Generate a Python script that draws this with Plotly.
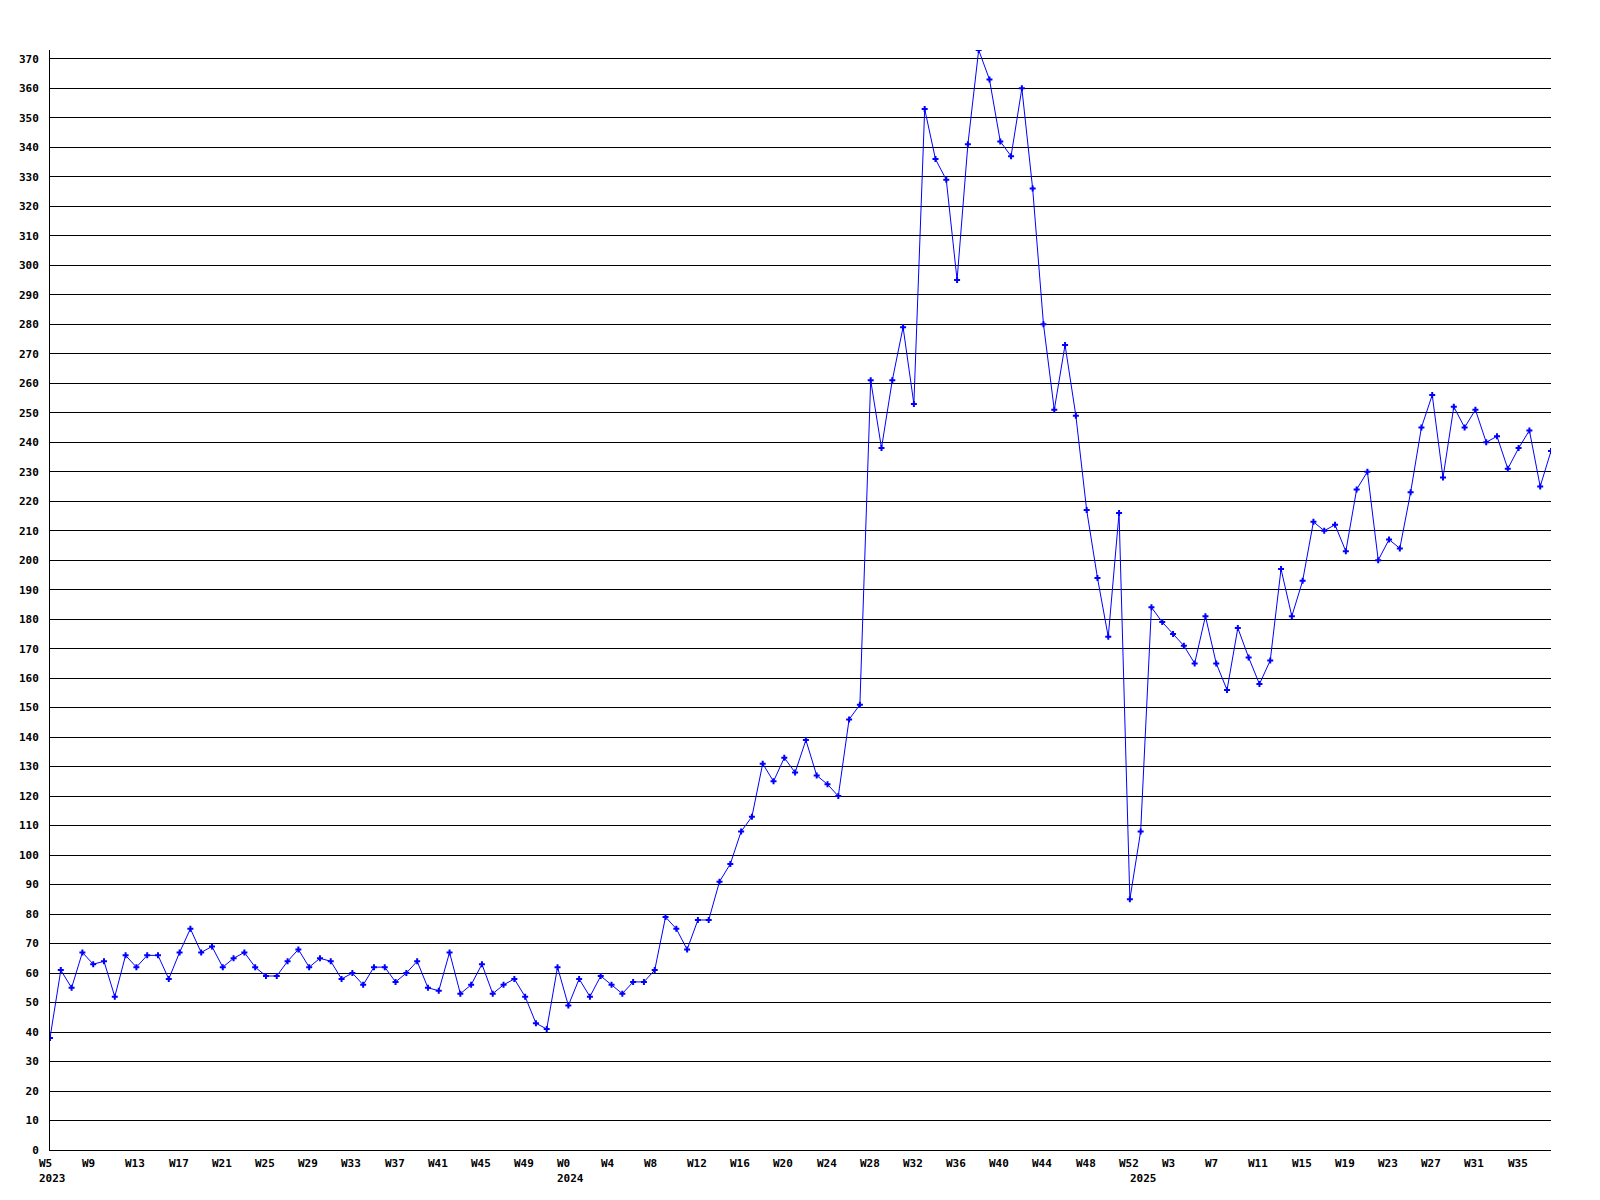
import plotly.graph_objects as go

# ---- data ----
weeks_2023 = list(range(5, 53))
values_2023 = [38, 61, 55, 67, 63, 64, 52, 66, 62, 66,
               66, 58, 67, 75, 67, 69, 62, 65, 67, 62,
               59, 59, 64, 68, 62, 65, 64, 58, 60, 56,
               62, 62, 57, 60, 64, 55, 54, 67, 53, 56,
               63, 53, 56, 58, 52, 43, 41, 62]

weeks_2024 = list(range(0, 53))
values_2024 = [49, 58, 52, 59, 56, 53, 57, 57, 61, 79,
               75, 68, 78, 78, 91, 97, 108, 113, 131, 125,
               133, 128, 139, 127, 124, 120, 146, 151, 261, 238,
               261, 279, 253, 353, 336, 329, 295, 341, 373, 363,
               342, 337, 360, 326, 280, 251, 273, 249, 217, 194,
               174, 216, 85]

weeks_2025 = list(range(0, 39))
values_2025 = [108, 184, 179, 175, 171, 165, 181, 165, 156, 177,
               167, 158, 166, 197, 181, 193, 213, 210, 212, 203,
               224, 230, 200, 207, 204, 223, 245, 256, 228, 252,
               245, 251, 240, 242, 231, 238, 244, 225, 237]

y_ticks = list(range(0, 371, 10))
tick_step = 4

# ---- build series ----
years = [2023] * len(weeks_2023) + [2024] * len(weeks_2024) + [2025] * len(weeks_2025)
weeks = weeks_2023 + weeks_2024 + weeks_2025
values = values_2023 + values_2024 + values_2025
idx = list(range(len(values)))

FONT = dict(family="DejaVu Sans Mono", size=11, color="black", weight="bold")

fig = go.Figure()
fig.add_trace(go.Scatter(
    x=idx, y=values, mode="lines+markers",
    line=dict(color="#0000ff", width=1),
    marker=dict(symbol="cross", size=5, color="#0000ff"),
    hoverinfo="skip", showlegend=False,
))

annotations = []
for i in range(0, len(idx), tick_step):
    annotations.append(dict(
        x=i, xref="x", y=0, yref="paper", yanchor="top", xanchor="left",
        xshift=-13, yshift=-5, showarrow=False, text=f"W{weeks[i]}", font=FONT))
# year labels at first week of each year
prev = None
for i, yr in enumerate(years):
    if yr != prev:
        annotations.append(dict(
            x=i, xref="x", y=0, yref="paper", yanchor="top", xanchor="left",
            xshift=-13, yshift=-20, showarrow=False, text=str(yr), font=FONT))
        prev = yr

fig.update_layout(
    width=1600, height=1200,
    margin=dict(l=50, r=49, t=50, b=50),
    paper_bgcolor="white", plot_bgcolor="white",
    font=FONT,
    annotations=annotations,
    xaxis=dict(range=[0, len(idx) - 1], showgrid=False, zeroline=False,
               showline=True, linecolor="black", linewidth=1,
               showticklabels=False, ticks=""),
    yaxis=dict(range=[0, max(values)], tickvals=y_ticks, showgrid=True,
               gridcolor="black", gridwidth=1, zeroline=False,
               showline=True, linecolor="black", linewidth=1,
               ticks="", ticklabelstandoff=8, tickfont=FONT),
)

fig.write_html("out.html", config={"displayModeBar": False},
               post_script="document.body.style.margin='0';")
